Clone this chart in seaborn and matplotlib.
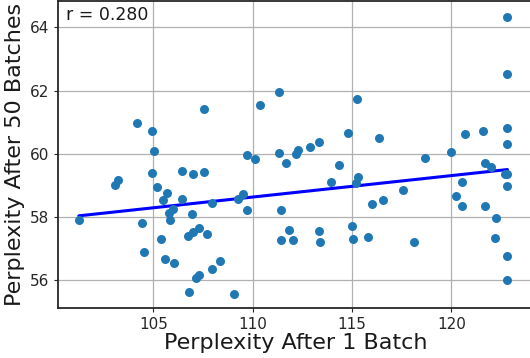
import numpy as np
import pandas as pd
import matplotlib
matplotlib.use("Agg")
import matplotlib.pyplot as plt
import seaborn as sns

ppl_1_batch = [
    101.25, 103.09, 103.22, 104.20, 104.93, 105.02, 104.93, 105.16, 105.50, 105.71,
    105.80, 106.00, 105.82, 104.45, 105.37, 104.52, 105.58, 106.06, 106.43, 106.98,
    107.56, 107.56, 106.43, 106.93, 107.93, 109.49, 109.27, 109.70, 111.41, 106.75,
    107.00, 107.29, 107.70, 106.78, 107.13, 107.29, 107.93, 108.36, 109.05, 109.70,
    110.13, 110.38, 111.32, 111.32, 111.67, 112.17, 112.28, 112.89, 113.32, 114.78,
    115.24, 116.34, 114.36, 113.93, 115.30, 115.22, 115.99, 116.58, 117.55, 111.84,
    111.41, 112.03, 113.32, 113.39, 115.02, 115.04, 115.79, 118.13, 118.69, 119.97,
    120.67, 121.61, 122.82, 122.82, 122.82, 122.82, 121.69, 121.97, 122.70, 122.82,
    120.55, 122.82, 120.22, 120.55, 121.69, 122.26, 122.20, 122.82, 122.82,
]
ppl_50_batches = [
    57.90, 59.00, 59.17, 60.99, 60.73, 60.08, 59.38, 58.95, 58.54, 58.77,
    58.14, 58.24, 57.90, 57.82, 57.30, 56.89, 56.68, 56.54, 59.47, 59.35,
    59.42, 61.43, 58.58, 58.10, 58.45, 58.74, 58.58, 58.23, 58.23, 57.39,
    57.53, 57.65, 57.47, 55.64, 56.06, 56.15, 56.36, 56.62, 55.56, 59.97,
    59.84, 61.55, 61.97, 60.01, 59.70, 59.99, 60.13, 60.23, 60.36, 60.67,
    61.74, 60.50, 59.63, 59.10, 59.26, 59.06, 58.41, 58.54, 58.85, 57.58,
    57.26, 57.26, 57.57, 57.20, 57.70, 57.30, 57.37, 57.21, 59.87, 60.05,
    60.63, 60.73, 64.33, 62.54, 60.81, 60.32, 59.71, 59.58, 59.37, 59.35,
    59.11, 58.98, 58.66, 58.35, 58.35, 57.97, 57.33, 56.76, 56.00,
]
x_ticks = [105, 110, 115, 120]
y_ticks = [56, 58, 60, 62, 64]
annotation = "r = 0.280"

df = pd.DataFrame({"x": ppl_1_batch, "y": ppl_50_batches})

sns.set_style("ticks")
plt.rcParams["font.family"] = ["DejaVu Sans"]

fig = plt.figure(figsize=(5.30, 3.58), dpi=100)
ax = fig.add_axes([0.1094, 0.1397, 0.896, 0.857])

sns.regplot(data=df, x="x", y="y", scatter=False, ci=None, ax=ax,
            line_kws={"color": "blue", "lw": 2.2, "zorder": 2})
sns.scatterplot(data=df, x="x", y="y", ax=ax, color="#1f77b4", s=42,
                linewidth=0, zorder=3)

ax.set_xlim(100.2, 124.1)
ax.set_ylim(55.12, 64.83)
ax.set_xticks(x_ticks)
ax.set_yticks(y_ticks)
ax.grid(True, color="#b0b0b0", lw=0.9)
ax.set_axisbelow(True)
for s in ["left", "bottom", "top"]:
    ax.spines[s].set_color("#262626")
    ax.spines[s].set_linewidth(1.3)
ax.spines["right"].set_visible(False)
ax.tick_params(labelsize=11, length=3, color="#262626", labelcolor="#262626")
ax.set_xlabel("Perplexity After 1 Batch", fontsize=16, color="#1a1a1a", labelpad=1)
ax.set_ylabel("Perplexity After 50 Batches", fontsize=16, color="#1a1a1a", labelpad=3)
ax.text(0.017, 0.985, annotation, transform=ax.transAxes, fontsize=12.5,
        va="top", ha="left", color="#1a1a1a")

fig.savefig("out.png", dpi=100)
